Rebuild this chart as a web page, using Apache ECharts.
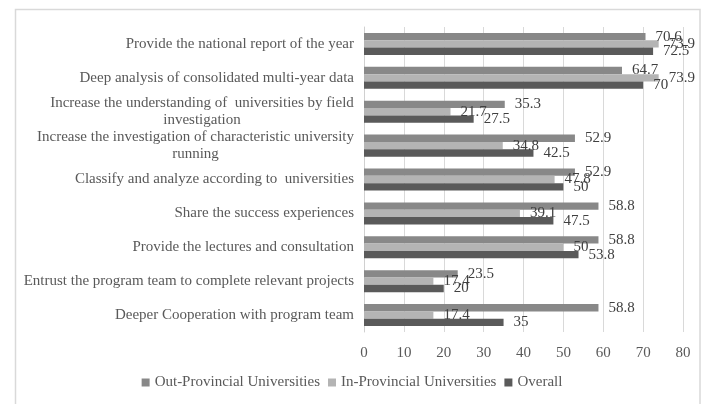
<!DOCTYPE html>
<html>
<head>
<meta charset="utf-8">
<script src="https://cdn.jsdelivr.net/npm/echarts@6/dist/echarts.min.js"></script>
<style>
  html, body { margin: 0; padding: 0; background: #fff; }
  #chart { width: 704px; height: 404px; }
</style>
</head>
<body>
<div id="chart"></div>
<script>
// Survey items (top to bottom)
const categories = [
  'Provide the national report of the year',
  'Deep analysis of consolidated multi-year data',
  'Increase the understanding of  universities by field\ninvestigation',
  'Increase the investigation of characteristic university\nrunning',
  'Classify and analyze according to  universities',
  'Share the success experiences',
  'Provide the lectures and consultation',
  'Entrust the program team to complete relevant projects',
  'Deeper Cooperation with program team'
];
const seriesNames = ['Out-Provincial Universities', 'In-Provincial Universities', 'Overall'];
const outProvincial = [70.6, 64.7, 35.3, 52.9, 52.9, 58.8, 58.8, 23.5, 58.8];
const inProvincial  = [73.9, 73.9, 21.7, 34.8, 47.8, 39.1, 50, 17.4, 17.4];
const overall       = [72.5, 70, 27.5, 42.5, 50, 47.5, 53.8, 20, 35];
const xTicks = { min: 0, max: 80, interval: 10 };

const FONT = '"Liberation Serif", "Times New Roman", serif';
const FS = 15;

// Multi-line category labels: centre each line under the widest one
const ctx = document.createElement('canvas').getContext('2d');
ctx.font = FS + 'px "Liberation Serif"';
const rich = {};
const labelMap = {};
categories.forEach(function (c, i) {
  const lines = c.split('\n');
  if (lines.length > 1) {
    const w = Math.ceil(Math.max.apply(null, lines.map(function (l) { return ctx.measureText(l).width; })));
    const key = 'c' + i;
    rich[key] = { width: w, align: 'center', fontFamily: FONT, fontSize: FS, color: '#595959', lineHeight: 17 };
    labelMap[c] = lines.map(function (l) { return '{' + key + '|' + l + '}'; }).join('\n');
  }
});

const colors = ['#888888', '#b4b4b4', '#5a5a5a'];
const values = [outProvincial, inProvincial, overall];

const chart = echarts.init(document.getElementById('chart'), null, { renderer: 'canvas' });
chart.setOption({
  animation: false,
  textStyle: { fontFamily: FONT },
  graphic: [{
    type: 'rect',
    shape: { x: 15.5, y: 9.5, width: 684.5, height: 420 },
    style: { fill: 'none', stroke: '#d9d9d9', lineWidth: 1.5 },
    silent: true,
    z: -1
  }],
  grid: { left: 364, right: 21, top: 27, bottom: 72, containLabel: false },
  legend: {
    data: seriesNames,
    bottom: 9,
    left: 'center',
    itemWidth: 8,
    itemHeight: 8,
    itemGap: 8,
    icon: 'rect',
    textStyle: { fontFamily: FONT, fontSize: FS, color: '#595959' }
  },
  xAxis: {
    type: 'value',
    min: xTicks.min,
    max: xTicks.max,
    interval: xTicks.interval,
    axisLine: { show: false },
    axisTick: { show: false },
    splitLine: { lineStyle: { color: '#d9d9d9', width: 1 } },
    axisLabel: { fontFamily: FONT, fontSize: FS, color: '#595959', margin: 14 }
  },
  yAxis: {
    type: 'category',
    data: categories,
    inverse: true,
    axisLine: { show: true, lineStyle: { color: '#d0d0d0', width: 1 } },
    axisTick: { show: false },
    axisLabel: {
      fontFamily: FONT, fontSize: FS, color: '#595959', margin: 10, lineHeight: 17,
      formatter: function (v) { return labelMap[v] || v; },
      rich: rich
    }
  },
  series: seriesNames.map(function (name, k) {
    return {
      name: name,
      type: 'bar',
      data: values[k],
      barGap: '0%',
      barCategoryGap: '35%',
      itemStyle: { color: colors[k] },
      label: {
        show: true,
        position: 'right',
        distance: 10,
        fontFamily: FONT,
        fontSize: FS,
        color: '#404040'
      }
    };
  })
});
</script>
</body>
</html>
